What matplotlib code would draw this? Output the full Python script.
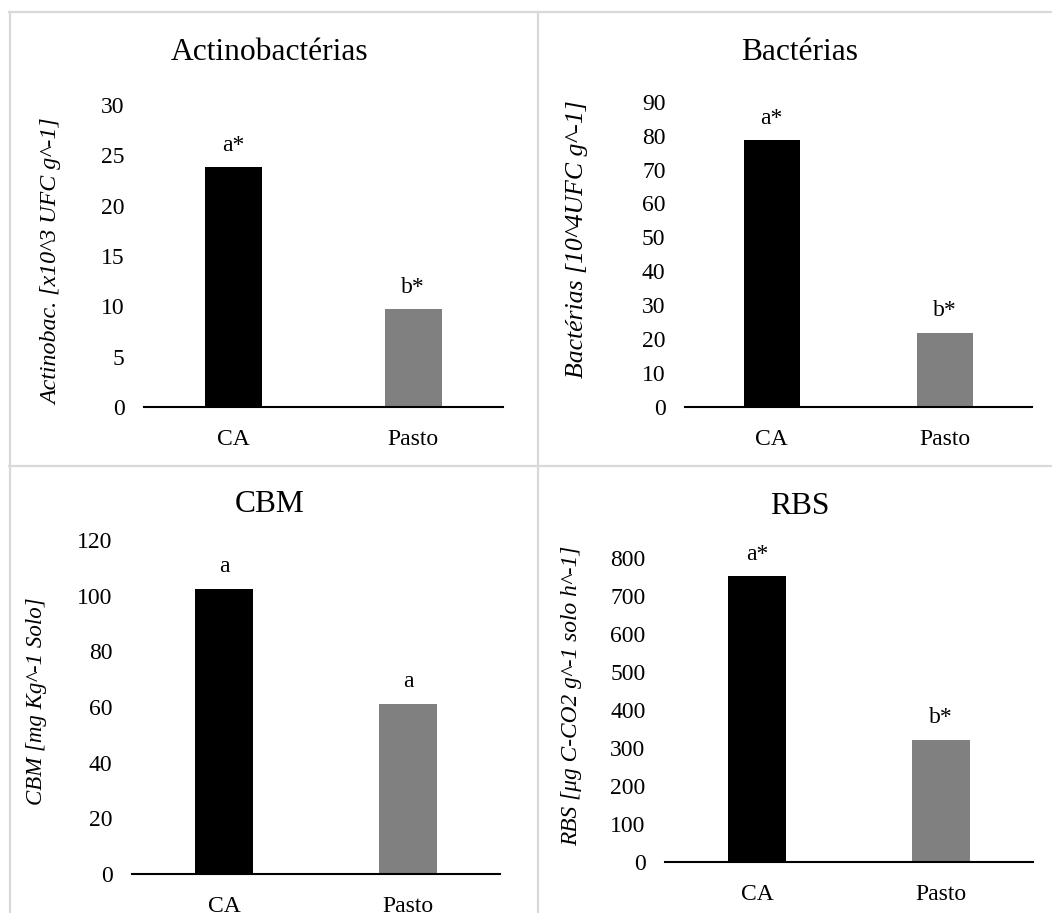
import matplotlib.pyplot as plt
from matplotlib.lines import Line2D

plt.rcParams['font.family'] = ['Liberation Serif', 'DejaVu Serif']

categories = ['CA', 'Pasto']
bar_colors = ['#000000', '#808080']

titles = ['Actinobactérias', 'Bactérias', 'CBM', 'RBS']
ylabels = ['Actinobac. [x10^3 UFC g^-1]',
           'Bactérias [10^4UFC g^-1]',
           'CBM [mg Kg^-1 Solo]',
           'RBS [μg C-CO2 g^-1 solo h^-1]']
values = [[23.8, 9.7], [78.6, 21.9], [102.5, 61.1], [752, 321]]
letters = [['a*', 'b*'], ['a*', 'b*'], ['a', 'a'], ['a*', 'b*']]
yticks = [range(0, 31, 5), range(0, 91, 10), range(0, 121, 20), range(0, 801, 100)]

W, H = 1052, 913
fig = plt.figure(figsize=(W / 100, H / 100), dpi=100)

# axes boxes in pixels: left, right, y of zero, y of top tick
boxes = [(144, 503, 407, 105), (685, 1032, 407, 101.7),
         (132, 500, 874, 540), (665, 1033, 862, 558)]
title_pos = [(270, 53), (800, 53), (270, 505), (800, 506)]
ylabel_pos = [(52, 262), (577, 239), (37, 701), (572, 696)]
ylabel_size = [17.3, 18.5, 16.5, 16.8]

for i in range(4):
    x0, x1, y0, y1 = boxes[i]
    ax = fig.add_axes([x0 / W, (H - y0) / H, (x1 - x0) / W, (y0 - y1) / H])
    ax.bar(range(2), values[i], width=0.32, color=bar_colors, zorder=2)
    ax.set_xlim(-0.5, 1.5)
    ax.set_ylim(0, max(yticks[i]))
    ax.set_yticks(list(yticks[i]))
    ax.set_xticks(range(2))
    ax.set_xticklabels(categories)
    for s in ['top', 'right', 'left']:
        ax.spines[s].set_visible(False)
    ax.spines['bottom'].set_linewidth(1.5)
    ax.spines['bottom'].set_zorder(3)
    ax.tick_params(axis='y', length=0, pad=14, labelsize=17)
    ax.tick_params(axis='x', length=0, pad=16, labelsize=17)
    ax.patch.set_alpha(0)
    for j, v in enumerate(values[i]):
        ax.annotate(letters[i][j], (j, v), xytext=(0, 16), textcoords='offset points',
                    ha='center', va='center', fontsize=17)
    tx, ty = title_pos[i]
    fig.text(tx / W, (H - ty) / H, titles[i], ha='center', va='center', fontsize=22.7)
    lx, ly = ylabel_pos[i]
    fig.text(lx / W, (H - ly) / H, ylabels[i], ha='center', va='center',
             rotation=90, fontsize=ylabel_size[i], style='italic')

# table borders around the panels
grid_color = '#d9d9d9'
def hline(y, xa, xb):
    fig.add_artist(Line2D([xa / W, xb / W], [(H - y) / H, (H - y) / H],
                          color=grid_color, linewidth=1.6))
def vline(x, ya, yb):
    fig.add_artist(Line2D([x / W, x / W], [(H - ya) / H, (H - yb) / H],
                          color=grid_color, linewidth=1.6))

hline(12.5, 9, W)
hline(466, 9, W)
vline(10, 12, H)
vline(537.5, 12, H)

fig.savefig('out.png', dpi=100)
